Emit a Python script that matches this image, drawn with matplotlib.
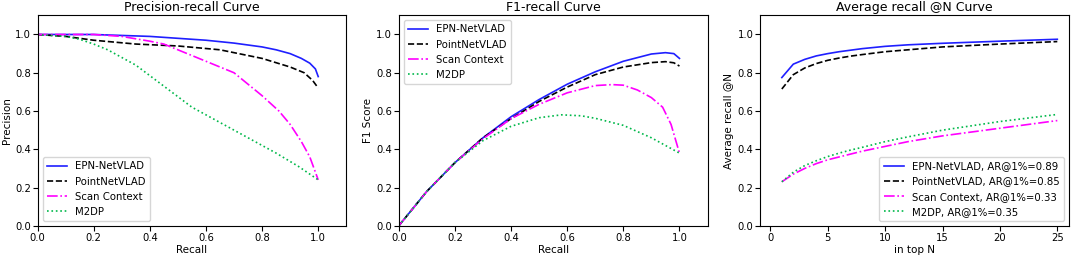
import numpy as np
import matplotlib.pyplot as plt

names = ['EPN-NetVLAD', 'PointNetVLAD', 'Scan Context', 'M2DP']
ar1 = [0.89, 0.85, 0.33, 0.35]
styles = ['-', '--', '-.', ':']
colors = ['#1f1fff', 'k', '#ff00ff', '#00b84a']

# precision-recall
pr_recall = [
    [0, 0.2, 0.4, 0.5, 0.6, 0.7, 0.8, 0.85, 0.9, 0.94, 0.97, 0.99, 1.0],
    [0, 0.1, 0.2, 0.35, 0.5, 0.65, 0.8, 0.9, 0.95, 0.98, 1.0],
    [0, 0.2, 0.3, 0.4, 0.45, 0.55, 0.7, 0.8, 0.86, 0.9, 0.94, 0.97, 1.0],
    [0, 0.1, 0.15, 0.2, 0.25, 0.35, 0.45, 0.55, 0.65, 0.75, 0.85, 0.93, 1.0],
]
pr_precision = [
    [1.0, 1.0, 0.99, 0.98, 0.97, 0.955, 0.935, 0.92, 0.9, 0.875, 0.85, 0.82, 0.78],
    [1.0, 0.99, 0.97, 0.95, 0.94, 0.92, 0.875, 0.83, 0.8, 0.76, 0.72],
    [1.0, 1.0, 0.99, 0.965, 0.95, 0.89, 0.8, 0.68, 0.6, 0.53, 0.44, 0.36, 0.24],
    [1.0, 0.99, 0.975, 0.95, 0.92, 0.84, 0.73, 0.62, 0.54, 0.46, 0.38, 0.31, 0.24],
]

# F1-recall
f1_recall = [
    [0, 0.1, 0.2, 0.3, 0.4, 0.5, 0.6, 0.7, 0.8, 0.9, 0.95, 0.98, 1.0],
    [0, 0.1, 0.2, 0.3, 0.4, 0.5, 0.6, 0.7, 0.8, 0.9, 0.95, 0.98, 1.0],
    [0, 0.1, 0.2, 0.3, 0.4, 0.5, 0.6, 0.7, 0.76, 0.8, 0.85, 0.9, 0.94, 0.97, 1.0],
    [0, 0.1, 0.2, 0.3, 0.4, 0.5, 0.58, 0.65, 0.7, 0.8, 0.9, 1.0],
]
f1_score = [
    [0, 0.18, 0.33, 0.46, 0.57, 0.66, 0.74, 0.805, 0.86, 0.898, 0.905, 0.9, 0.875],
    [0, 0.18, 0.33, 0.46, 0.56, 0.65, 0.725, 0.79, 0.83, 0.853, 0.858, 0.852, 0.835],
    [0, 0.18, 0.33, 0.455, 0.56, 0.635, 0.695, 0.733, 0.738, 0.735, 0.71, 0.67, 0.62, 0.53, 0.38],
    [0, 0.18, 0.33, 0.445, 0.52, 0.565, 0.58, 0.575, 0.562, 0.525, 0.46, 0.38],
]

# average recall @N
top_n = [1, 2, 3, 4, 5, 6, 7, 8, 10, 12, 15, 20, 25]
recall_n = [
    [0.775, 0.845, 0.87, 0.888, 0.9, 0.91, 0.918, 0.926, 0.938, 0.946, 0.954, 0.965, 0.975],
    [0.715, 0.79, 0.825, 0.848, 0.865, 0.877, 0.887, 0.895, 0.91, 0.92, 0.935, 0.95, 0.963],
    [0.23, 0.27, 0.3, 0.325, 0.345, 0.36, 0.375, 0.39, 0.415, 0.44, 0.47, 0.51, 0.55],
    [0.23, 0.28, 0.315, 0.34, 0.362, 0.38, 0.396, 0.41, 0.44, 0.465, 0.5, 0.545, 0.582],
]

plt.rcParams['font.size'] = 7.5
plt.rcParams['xtick.labelsize'] = 7.2
plt.rcParams['ytick.labelsize'] = 7.2
plt.rcParams['xtick.major.pad'] = 1.5
plt.rcParams['ytick.major.pad'] = 1.2
plt.rcParams['legend.fontsize'] = 7.3
fig, axes = plt.subplots(1, 3, figsize=(10.72, 2.56), dpi=100)
plt.subplots_adjust(left=0.035, right=0.997, top=0.94, bottom=0.118, wspace=0.17)

ax = axes[0]
for i in range(4):
    ax.plot(pr_recall[i], pr_precision[i], styles[i], color=colors[i], label=names[i], lw=1.2)
ax.set_xlim(0, 1.1)
ax.set_ylim(0, 1.1)
ax.set_xlabel('Recall', labelpad=1.5)
ax.set_ylabel('Precision', labelpad=2.5)
ax.set_title('Precision-recall Curve', fontsize=9, pad=3)
ax.legend(loc='lower left')

ax = axes[1]
for i in range(4):
    ax.plot(f1_recall[i], f1_score[i], styles[i], color=colors[i], label=names[i], lw=1.2)
ax.set_xlim(0, 1.1)
ax.set_ylim(0, 1.1)
ax.set_xlabel('Recall', labelpad=1.5)
ax.set_ylabel('F1 Score', labelpad=2.5)
ax.set_title('F1-recall Curve', fontsize=9, pad=3)
ax.legend(loc='upper left')

ax = axes[2]
for i in range(4):
    ax.plot(top_n, recall_n[i], styles[i], color=colors[i], lw=1.2,
            label='%s, AR@1%%=%.2f' % (names[i], ar1[i]))
ax.set_xlim(-0.9, 26)
ax.set_ylim(0, 1.1)
ax.set_xticks([0, 5, 10, 15, 20, 25])
ax.set_xlabel('in top N', labelpad=1.5)
ax.set_ylabel('Average recall @N', labelpad=2.5)
ax.set_title('Average recall @N Curve', fontsize=9, pad=3)
ax.legend(loc='lower right')

plt.savefig('out.png')
